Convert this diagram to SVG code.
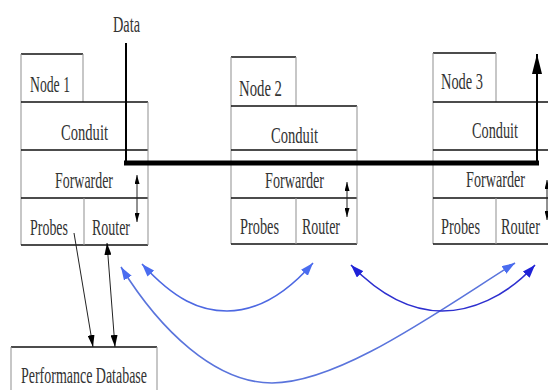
<svg xmlns="http://www.w3.org/2000/svg" width="548" height="390" viewBox="0 0 548 390">
<style>
.h{stroke:#111;stroke-width:1.6;fill:none}
.v{stroke:#999;stroke-width:1.1;fill:none}
.t{font-family:"Liberation Serif","Times New Roman",serif;font-size:23px;fill:#333}
.k{stroke:#222;stroke-width:1;fill:none}
.b1{stroke:#5a74dc;stroke-width:1.6;fill:none}
.b2{stroke:#4d68e2;stroke-width:1.6;fill:none}
.b3{stroke:#2d2fcf;stroke-width:1.6;fill:none}
</style>
<defs>
<marker id="ak" viewBox="0 0 12 7" refX="12" refY="3.5" markerWidth="12" markerHeight="7" markerUnits="userSpaceOnUse" orient="auto-start-reverse"><path d="M0,0L12,3.5L0,7z" fill="#000"/></marker>
<marker id="as" viewBox="0 0 9 5" refX="9" refY="2.5" markerWidth="9" markerHeight="5" markerUnits="userSpaceOnUse" orient="auto-start-reverse"><path d="M0,0L9,2.5L0,5z" fill="#000"/></marker>
<marker id="ad" viewBox="0 0 20 10" refX="20" refY="5" markerWidth="20" markerHeight="10" markerUnits="userSpaceOnUse" orient="auto"><path d="M0,0L20,5L0,10z" fill="#000"/></marker>
<marker id="ab1" viewBox="0 0 13 9" refX="13" refY="4.5" markerWidth="13" markerHeight="9" markerUnits="userSpaceOnUse" orient="auto-start-reverse"><path d="M0,0L13,4.5L0,9z" fill="#4a6cf0"/></marker>
<marker id="ab3" viewBox="0 0 13 9" refX="13" refY="4.5" markerWidth="13" markerHeight="9" markerUnits="userSpaceOnUse" orient="auto-start-reverse"><path d="M0,0L13,4.5L0,9z" fill="#1f22d8"/></marker>
</defs>
<g id="node1">
<line class="h" x1="21" y1="54" x2="83" y2="54"/>
<line class="v" x1="21" y1="54" x2="21" y2="245"/>
<line class="v" x1="83" y1="54" x2="83" y2="102"/>
<line class="h" x1="21" y1="102" x2="148" y2="102"/>
<line class="h" x1="21" y1="150" x2="148" y2="150"/>
<line class="h" x1="21" y1="198" x2="148" y2="198"/>
<line class="h" x1="21" y1="245" x2="148" y2="245"/>
<line class="v" x1="148" y1="102" x2="148" y2="245"/>
<line class="v" x1="84" y1="198" x2="84" y2="245"/>
<text class="t" x="30" y="92" textLength="40" lengthAdjust="spacingAndGlyphs">Node 1</text>
<text class="t" x="61" y="140" textLength="47" lengthAdjust="spacingAndGlyphs">Conduit</text>
<text class="t" x="55" y="188" textLength="58" lengthAdjust="spacingAndGlyphs">Forwarder</text>
<text class="t" x="30" y="235" textLength="38" lengthAdjust="spacingAndGlyphs">Probes</text>
<text class="t" x="92" y="235" textLength="38" lengthAdjust="spacingAndGlyphs">Router</text>
</g>
<g id="node2">
<line class="h" x1="231" y1="57" x2="296" y2="57"/>
<line class="v" x1="231" y1="57" x2="231" y2="244"/>
<line class="v" x1="296" y1="57" x2="296" y2="106"/>
<line class="h" x1="231" y1="106" x2="357" y2="106"/>
<line class="h" x1="231" y1="150" x2="357" y2="150"/>
<line class="h" x1="231" y1="198" x2="357" y2="198"/>
<line class="h" x1="231" y1="244" x2="357" y2="244"/>
<line class="v" x1="357" y1="106" x2="357" y2="244"/>
<line class="v" x1="296" y1="198" x2="296" y2="244"/>
<text class="t" x="239" y="96" textLength="43" lengthAdjust="spacingAndGlyphs">Node 2</text>
<text class="t" x="271" y="143" textLength="47" lengthAdjust="spacingAndGlyphs">Conduit</text>
<text class="t" x="265" y="188" textLength="59" lengthAdjust="spacingAndGlyphs">Forwarder</text>
<text class="t" x="240" y="234" textLength="39" lengthAdjust="spacingAndGlyphs">Probes</text>
<text class="t" x="302" y="234" textLength="38" lengthAdjust="spacingAndGlyphs">Router</text>
</g>
<g id="node3">
<line class="h" x1="433" y1="53" x2="496" y2="53"/>
<line class="v" x1="433" y1="53" x2="433" y2="244"/>
<line class="v" x1="496" y1="53" x2="496" y2="102"/>
<line class="h" x1="433" y1="102" x2="560" y2="102"/>
<line class="h" x1="433" y1="150" x2="560" y2="150"/>
<line class="h" x1="433" y1="198" x2="560" y2="198"/>
<line class="h" x1="433" y1="244" x2="560" y2="244"/>
<line class="v" x1="496" y1="198" x2="496" y2="244"/>
<text class="t" x="441" y="89" textLength="42" lengthAdjust="spacingAndGlyphs">Node 3</text>
<text class="t" x="472" y="138" textLength="46" lengthAdjust="spacingAndGlyphs">Conduit</text>
<text class="t" x="466" y="187" textLength="59" lengthAdjust="spacingAndGlyphs">Forwarder</text>
<text class="t" x="441" y="234" textLength="39" lengthAdjust="spacingAndGlyphs">Probes</text>
<text class="t" x="501" y="234" textLength="39" lengthAdjust="spacingAndGlyphs">Router</text>
</g>
<g id="database">
<line class="h" x1="11" y1="347" x2="157" y2="347"/>
<line class="v" x1="11" y1="347" x2="11" y2="392"/>
<line class="v" x1="157" y1="347" x2="157" y2="392"/>
<text class="t" x="21" y="383" textLength="126" lengthAdjust="spacingAndGlyphs">Performance Database</text>
</g>
<text class="t" x="113" y="32" textLength="27" lengthAdjust="spacingAndGlyphs">Data</text>
<g id="connectors">
<line x1="126" y1="43" x2="126" y2="164" stroke="#000" stroke-width="2"/>
<line x1="124" y1="163" x2="539" y2="163" stroke="#000" stroke-width="5"/>
<line x1="537" y1="163" x2="537" y2="54" stroke="#000" stroke-width="2" marker-end="url(#ad)"/>
<line class="k" x1="137" y1="175" x2="137" y2="222" marker-start="url(#as)" marker-end="url(#as)"/>
<line class="k" x1="347" y1="182" x2="347" y2="217" marker-start="url(#as)" marker-end="url(#as)"/>
<line class="k" x1="547" y1="180" x2="547" y2="220" marker-start="url(#as)" marker-end="url(#as)"/>
<line class="k" x1="74" y1="233" x2="93" y2="347" marker-end="url(#ak)"/>
<line class="k" x1="107" y1="243" x2="115" y2="347" marker-start="url(#ak)" marker-end="url(#ak)"/>
<path class="b1" d="M121,267 C160,330 215,383 272,383 C340,383 440,310 515,263" marker-start="url(#ab1)" marker-end="url(#ab1)"/>
<path class="b2" d="M142,264 C175,300 200,311 227,311 C255,311 285,295 313,263" marker-start="url(#ab1)" marker-end="url(#ab1)"/>
<path class="b3" d="M351,265 C385,300 415,311 442,311 C470,311 505,298 535,265" marker-start="url(#ab3)" marker-end="url(#ab3)"/>
</g>
</svg>
